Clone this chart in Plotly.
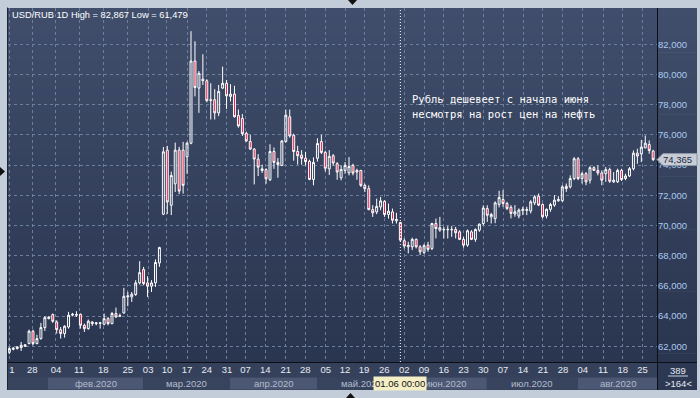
import plotly.graph_objects as go

# ---------------- data ----------------
opens = [61.60, 61.80, 61.85, 61.91, 62.00, 62.18, 63.00, 62.18, 62.51, 63.24,
         63.83, 64.10, 63.61, 63.10, 62.84, 63.28, 64.06, 64.06, 64.12, 63.39,
         63.17, 63.61, 63.50, 63.52, 63.46, 63.83, 63.50, 64.17, 63.99, 64.21,
         65.27, 65.27, 65.43, 66.20, 67.08, 66.20, 65.98, 66.20, 67.52, 70.75,
         74.99, 71.34, 72.76, 74.99, 74.99, 74.55, 75.45, 80.89, 79.10, 79.69,
         79.58, 78.33, 78.33, 77.46, 79.10, 79.42, 78.55, 78.70, 77.28, 77.09,
         76.10, 75.56, 75.06, 74.40, 73.64, 73.70, 73.03, 74.90, 74.18, 73.97,
         75.56, 77.20, 75.97, 74.90, 74.66, 74.45, 74.25, 73.05, 74.45, 75.56,
         74.84, 73.75, 74.62, 74.09, 73.16, 73.65, 73.49, 73.98, 73.54, 73.65,
         72.66, 72.44, 71.05, 70.90, 71.23, 71.60, 70.73, 70.90, 70.31, 70.20,
         68.99, 68.59, 68.59, 69.08, 68.59, 68.22, 68.70, 68.48, 70.13, 69.69,
         69.74, 69.72, 69.74, 69.74, 69.58, 69.08, 68.70, 69.58, 69.08, 69.69,
         70.13, 71.12, 70.57, 70.45, 71.40, 71.72, 71.46, 71.20, 70.76, 70.63,
         70.98, 71.00, 70.96, 71.50, 71.94, 71.39, 70.63, 71.07, 71.35, 71.64,
         71.64, 72.60, 72.56, 73.11, 74.42, 73.11, 73.43, 73.00, 73.83, 73.65,
         73.48, 73.43, 73.70, 72.89, 72.89, 73.65, 73.11, 73.28, 73.76, 74.79,
         74.75, 75.14, 75.36, 74.93]
highs = [61.95, 61.96, 62.00, 62.29, 62.13, 63.10, 63.10, 62.77, 63.55, 63.99,
         63.99, 64.17, 63.72, 63.28, 63.39, 64.28, 64.21, 64.32, 64.17, 63.50,
         63.77, 63.66, 63.61, 63.61, 64.17, 63.94, 64.28, 64.56, 64.17, 65.87,
         65.60, 65.60, 66.38, 67.64, 67.26, 66.64, 66.38, 67.75, 68.59, 75.20,
         75.27, 73.57, 75.49, 75.21, 75.54, 75.54, 82.867, 82.20, 80.23, 81.34,
         79.69, 79.42, 79.03, 79.31, 80.52, 79.64, 79.36, 79.25, 77.68, 77.39,
         76.21, 76.00, 75.12, 74.73, 74.03, 73.79, 75.38, 75.17, 74.47, 75.65,
         77.68, 77.68, 76.08, 75.28, 74.99, 74.88, 74.36, 74.51, 75.78, 76.00,
         74.95, 74.99, 74.73, 74.20, 73.98, 74.20, 74.53, 74.09, 73.76, 73.68,
         72.77, 72.66, 71.34, 71.78, 71.89, 71.67, 71.45, 71.12, 70.84, 70.24,
         69.14, 68.92, 69.19, 69.14, 68.70, 68.77, 68.92, 70.18, 70.46, 70.57,
         69.91, 69.96, 69.96, 69.91, 69.69, 69.25, 69.74, 69.69, 69.80, 70.13,
         71.34, 71.34, 70.84, 71.60, 72.30, 72.34, 71.57, 71.35, 71.35, 71.13,
         71.24, 71.24, 71.68, 72.01, 72.12, 71.46, 71.13, 71.50, 72.01, 71.94,
         72.67, 72.78, 73.32, 74.53, 74.53, 73.54, 73.54, 73.92, 73.92, 73.98,
         73.65, 73.87, 73.83, 73.54, 73.76, 73.76, 73.43, 73.87, 74.97, 75.08,
         75.67, 75.96, 75.63, 75.01]
lows = [61.479, 61.73, 61.78, 61.69, 61.96, 62.13, 62.07, 62.13, 62.44, 63.02,
        63.79, 63.55, 62.84, 62.51, 62.57, 63.17, 63.99, 63.94, 63.17, 62.95,
        63.10, 63.35, 63.39, 63.17, 63.39, 63.39, 63.46, 63.90, 63.94, 64.15,
        64.65, 64.94, 65.34, 66.09, 66.04, 65.27, 65.60, 65.93, 67.26, 70.69,
        70.76, 70.69, 72.22, 72.07, 72.11, 73.42, 75.38, 78.55, 77.46, 79.31,
        78.16, 77.02, 77.02, 77.24, 79.05, 77.72, 78.22, 77.15, 76.48, 75.93,
        75.54, 75.01, 72.72, 73.27, 73.48, 72.76, 72.94, 73.75, 73.16, 73.95,
        75.49, 75.82, 74.29, 74.03, 74.03, 73.97, 73.00, 72.66, 74.23, 74.73,
        73.57, 73.35, 73.97, 73.03, 72.99, 73.43, 73.32, 73.32, 73.03, 72.55,
        72.22, 71.01, 70.57, 70.75, 71.01, 70.57, 70.46, 70.13, 70.13, 68.92,
        68.48, 68.15, 68.37, 68.48, 68.04, 68.11, 68.26, 68.37, 69.14, 69.58,
        69.14, 69.14, 69.25, 69.14, 69.03, 68.53, 68.59, 69.03, 68.92, 69.58,
        70.02, 70.24, 70.13, 70.15, 71.20, 71.24, 71.02, 70.47, 70.58, 70.47,
        70.69, 70.69, 70.80, 71.35, 71.28, 70.47, 70.47, 70.91, 71.24, 71.57,
        71.57, 72.23, 72.45, 73.00, 73.00, 72.78, 72.67, 72.78, 73.61, 73.32,
        72.67, 72.89, 72.82, 72.82, 72.82, 72.95, 73.00, 73.21, 73.65, 74.09,
        74.20, 75.12, 74.75, 74.27]
closes = [61.85, 61.87, 61.96, 62.07, 62.10, 63.00, 62.18, 62.51, 63.24, 63.90,
          63.94, 63.66, 63.10, 62.84, 63.33, 64.06, 64.12, 64.10, 63.39, 63.17,
          63.66, 63.50, 63.55, 63.55, 63.83, 63.50, 64.17, 63.94, 64.03, 65.31,
          65.34, 65.45, 66.20, 66.88, 66.15, 65.98, 66.20, 67.55, 68.54, 74.88,
          71.56, 73.31, 74.99, 72.28, 72.66, 75.45, 80.89, 79.14, 80.08, 79.60,
          78.27, 78.29, 77.46, 78.88, 79.42, 78.59, 78.70, 77.20, 76.59, 76.08,
          75.60, 75.06, 74.40, 73.86, 73.75, 73.09, 74.90, 74.18, 74.03, 75.60,
          77.31, 75.93, 74.90, 74.62, 74.45, 74.23, 73.05, 74.18, 75.43, 74.84,
          73.79, 74.58, 74.14, 73.54, 73.71, 73.98, 73.91, 73.47, 73.65, 72.66,
          72.44, 71.05, 70.84, 71.27, 71.63, 70.73, 70.95, 70.35, 70.40, 69.03,
          68.64, 68.68, 69.08, 68.59, 68.26, 68.66, 68.42, 70.13, 69.80, 69.85,
          69.72, 69.74, 69.72, 69.52, 69.08, 68.70, 69.65, 69.08, 69.74, 70.09,
          71.16, 70.68, 70.73, 71.50, 71.85, 71.46, 71.13, 70.80, 70.91, 71.02,
          71.07, 71.05, 71.57, 71.90, 71.35, 70.58, 71.07, 71.39, 71.68, 71.72,
          72.56, 72.45, 73.11, 74.42, 73.11, 73.43, 72.89, 73.83, 73.65, 73.48,
          73.00, 73.70, 72.93, 73.00, 73.65, 73.04, 73.28, 73.76, 74.79, 74.60,
          75.19, 75.45, 74.97, 74.365]
bar_index = list(range(len(opens)))

# weekly tick marks (bar positions) and their labels
week_tick_pos = [0.0, 5.8, 11.8, 17.65, 23.8, 30.0, 35.15, 39.9, 45.0, 50.0,
                 55.1, 59.8, 64.8, 70.0, 74.95, 80.1, 85.0, 89.8, 94.9, 100.0,
                 105.0, 110.0, 115.0, 120.0, 125.0, 130.05, 135.1, 140.15, 145.2,
                 150.3, 155.3, 160.3]
week_tick_text = ["\u00a0\u00a01", "28", "04", "11", "18", "25", "03", "10", "17", "24",
                  "31", "07", "14", "21", "28", "05", "12", "19", "26", "02",
                  "09", "16", "23", "30", "07", "14", "21", "28", "04", "11",
                  "18", "25"]
month_names = ["", "фев.2020", "мар.2020", "апр.2020", "май.2020", "июн.2020",
               "июл.2020", "авг.2020"]
month_edges = [-0.33, 9.8, 33.85, 55.9, 77.9, 100.2, 120.9, 143.97, 163.97]
price_ticks = [62, 64, 66, 68, 70, 72, 74, 76, 78, 80, 82]
cursor_bar = 99
cursor_label = "01.06 00:00"
note_lines = ["Рубль дешевеет с начала июня", "несмотря на рост цен на нефть"]
total_bars = 389

# ---------------- helpers (pixel -> paper) ----------------
W, H = 700, 398
L, R, T, B = 8, 43, 8, 36
PW, PH = W - L - R, H - T - B


def pxx(px):
    return (px - L) / PW


def pxy(py):
    return (H - B - py) / PH


def ru(v):
    return f"{v:,.3f}".replace(",", " ").replace(".", ",").replace(" ", ".")


FONT = "Liberation Sans, Arial, sans-serif"

fig = go.Figure()
fig.add_trace(go.Candlestick(
    x=bar_index, open=opens, high=highs, low=lows, close=closes,
    increasing=dict(line=dict(color="#ffffff", width=1), fillcolor="rgba(0,0,0,0)"),
    decreasing=dict(line=dict(color="#ffffff", width=1), fillcolor="#e3123f"),
    whiskerwidth=0, hoverinfo="skip", showlegend=False,
))

shapes = []
# vertical gradient background of chart + right price panel
N = 40
top_c = (64, 78, 107)
bot_c = (42, 53, 79)
for k in range(N):
    t = k / (N - 1)
    c = tuple(round(top_c[i] + (bot_c[i] - top_c[i]) * t) for i in range(3))
    y0 = T + k * PH / N
    y1 = T + (k + 1) * PH / N + 0.6
    shapes.append(dict(type="rect", xref="paper", yref="paper", layer="below",
                       x0=pxx(L), x1=pxx(697), y0=pxy(y1), y1=pxy(y0),
                       line=dict(width=0), fillcolor="rgb(%d,%d,%d)" % c))
# bottom time panel
shapes.append(dict(type="rect", xref="paper", yref="paper", layer="below",
                   x0=pxx(L), x1=pxx(657.5), y0=pxy(390), y1=pxy(362),
                   line=dict(width=0), fillcolor="#35415b"))
shapes.append(dict(type="rect", xref="paper", yref="paper", layer="below",
                   x0=pxx(657.5), x1=pxx(697), y0=pxy(390), y1=pxy(362),
                   line=dict(width=0), fillcolor="#2d3852"))
for i in range(len(month_names)):
    shapes.append(dict(type="rect", xref="x", yref="paper", layer="below",
                       x0=month_edges[i], x1=month_edges[i + 1],
                       y0=pxy(389.5), y1=pxy(377.5), line=dict(width=0),
                       fillcolor="#4b5773" if i % 2 else "#38445e"))
# separator lines
shapes.append(dict(type="line", xref="paper", yref="paper", layer="above",
                   x0=pxx(7), x1=pxx(697), y0=pxy(362.5), y1=pxy(362.5),
                   line=dict(color="#0c0f18", width=1)))
shapes.append(dict(type="line", xref="paper", yref="paper", layer="above",
                   x0=pxx(657.5), x1=pxx(657.5), y0=pxy(390), y1=pxy(8),
                   line=dict(color="#0c0f18", width=1)))
# left frame edge
shapes.append(dict(type="rect", xref="paper", yref="paper", layer="above",
                   x0=pxx(0), x1=pxx(7), y0=pxy(398), y1=pxy(0),
                   line=dict(width=0), fillcolor="#c3ccd9"))
shapes.append(dict(type="line", xref="paper", yref="paper", layer="above",
                   x0=pxx(7.5), x1=pxx(7.5), y0=pxy(390), y1=pxy(7.5),
                   line=dict(color="#1c2436", width=1)))
# cursor dotted line
shapes.append(dict(type="line", xref="x", yref="paper", layer="above",
                   x0=cursor_bar, x1=cursor_bar, y0=0, y1=1,
                   line=dict(color="#ffffff", width=1, dash="1px,2px")))
# last price tag
lp = closes[-1]
dy = 6 / 15.1
x_tip, x_l, x_r = pxx(657), pxx(663), pxx(697)
shapes.append(dict(type="path", xref="paper", yref="y", layer="above",
                   path=f"M{x_tip},{lp} L{x_l},{lp + dy} L{x_r},{lp + dy} "
                        f"L{x_r},{lp - dy} L{x_l},{lp - dy} Z",
                   fillcolor="#c8ccd4", line=dict(color="#8d97a8", width=1)))
# small markers in the frame
shapes.append(dict(type="path", xref="paper", yref="paper", layer="above",
                   path=f"M{pxx(348)},{pxy(0)} L{pxx(357)},{pxy(0)} L{pxx(352.5)},{pxy(5)} Z",
                   fillcolor="#111111", line=dict(width=0)))
shapes.append(dict(type="path", xref="paper", yref="paper", layer="above",
                   path=f"M{pxx(346)},{pxy(398)} L{pxx(355)},{pxy(398)} L{pxx(350.5)},{pxy(393)} Z",
                   fillcolor="#111111", line=dict(width=0)))
shapes.append(dict(type="path", xref="paper", yref="paper", layer="above",
                   path=f"M{pxx(0)},{pxy(167)} L{pxx(0)},{pxy(176)} L{pxx(5)},{pxy(171.5)} Z",
                   fillcolor="#111111", line=dict(width=0)))
# underline under bar count
shapes.append(dict(type="line", xref="paper", yref="paper", layer="above",
                   x0=pxx(668), x1=pxx(688), y0=pxy(376), y1=pxy(376),
                   line=dict(color="#c9d2e0", width=1)))

annotations = []
annotations.append(dict(xref="paper", yref="paper", x=pxx(10), y=pxy(14.5),
                        xanchor="left", yanchor="middle", showarrow=False,
                        text=f"USD/RUB 1D High = {ru(max(highs))} Low = {ru(min(lows))}",
                        font=dict(family=FONT, size=9.3, color="#ffffff")))
for j, line in enumerate(note_lines):
    annotations.append(dict(xref="paper", yref="paper", x=pxx(410), y=pxy(99.5 + 15 * j),
                            xanchor="left", yanchor="middle", showarrow=False, text=line,
                            font=dict(family="DejaVu Sans Mono, monospace", size=10.5,
                                      color="#ffffff")))
for i, name in enumerate(month_names):
    if name:
        annotations.append(dict(xref="x", yref="paper",
                                x=(month_edges[i] + month_edges[i + 1]) / 2, y=pxy(383),
                                xanchor="center", yanchor="middle", showarrow=False,
                                text=name, font=dict(family=FONT, size=9.5, color="#b3bccd")))
annotations.append(dict(xref="x", yref="paper", x=cursor_bar, y=pxy(383),
                        xanchor="center", yanchor="middle", showarrow=False,
                        text=cursor_label, bgcolor="#f4eec6", borderpad=1,
                        font=dict(family=FONT, size=9.5, color="#111111")))
annotations.append(dict(xref="paper", yref="y", x=pxx(677), y=lp,
                        xanchor="center", yanchor="middle", showarrow=False,
                        text=ru(lp), font=dict(family=FONT, size=9.5, color="#1b2946")))
annotations.append(dict(xref="paper", yref="paper", x=pxx(678), y=pxy(370.5),
                        xanchor="center", yanchor="middle", showarrow=False,
                        text=str(total_bars), font=dict(family=FONT, size=9.5, color="#e6eaf2")))
annotations.append(dict(xref="paper", yref="paper", x=pxx(678), y=pxy(383.5),
                        xanchor="center", yanchor="middle", showarrow=False,
                        text=f">{len(opens)}<", font=dict(family=FONT, size=9.5, color="#e6eaf2")))

GRID = "#6e7e9e"
fig.update_layout(
    width=W, height=H, autosize=False,
    margin=dict(l=L, r=R, t=T, b=B, pad=0),
    paper_bgcolor="#c3ccd9", plot_bgcolor="#35425e",
    separators=",.",
    showlegend=False, hovermode=False,
    shapes=shapes, annotations=annotations,
    xaxis=dict(range=[-0.33, 163.97], rangeslider=dict(visible=False),
               tickmode="array", tickvals=week_tick_pos, ticktext=week_tick_text,
               showgrid=True, gridcolor=GRID, griddash="3px,3px", gridwidth=1,
               zeroline=False, showline=False, ticks="", automargin=False,
               tickfont=dict(family=FONT, size=9.5, color="#e6eaf2")),
    yaxis=dict(range=[60.96, 84.404], side="right", tickmode="array",
               tickvals=price_ticks, tickformat=".3f",
               showgrid=True, gridcolor=GRID, griddash="3px,3px", gridwidth=1,
               zeroline=False, showline=False, ticks="", automargin=False,
               tickfont=dict(family=FONT, size=9.5, color="#abcaf0")),
)

fig.write_html("out.html", config=dict(displayModeBar=False, staticPlot=True))
